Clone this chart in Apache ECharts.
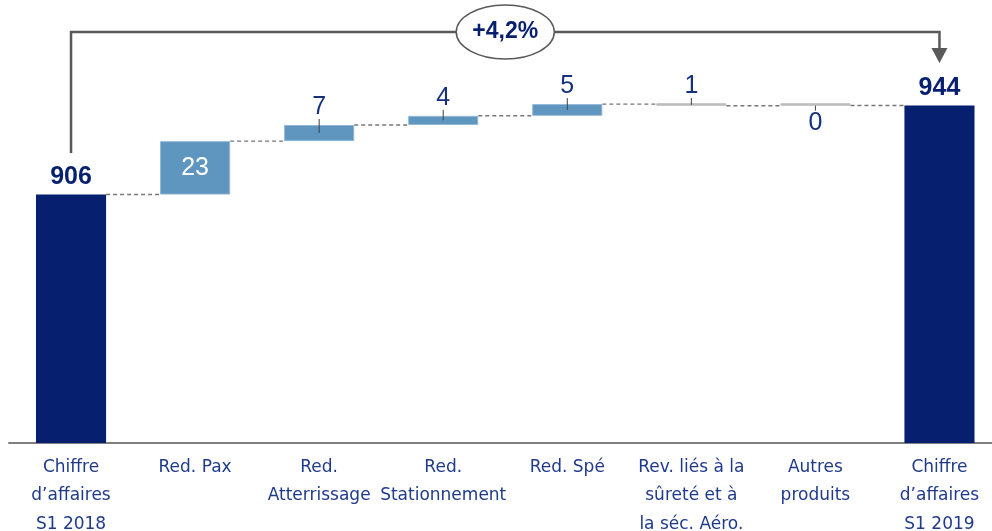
<!DOCTYPE html>
<html>
<head>
<meta charset="utf-8">
<script src="https://cdn.jsdelivr.net/npm/echarts@6/dist/echarts.min.js"></script>
<style>
html,body{margin:0;padding:0;background:#fff;overflow:hidden;}
#chart{width:992px;height:531px;}
</style>
</head>
<body>
<div id="chart"></div>
<script>
// ---- data ----
const categories = [
  'Chiffre\nd’affaires\nS1 2018',
  'Red. Pax',
  'Red.\nAtterrissage',
  'Red.\nStationnement',
  'Red. Spé',
  'Rev. liés à la\nsûreté et à\nla séc. Aéro.',
  'Autres\nproduits',
  'Chiffre\nd’affaires\nS1 2019'
];
const startValue = 906;
const deltas = [22.8, 6.9, 3.9, 5.0, -0.7, 0.1];
const endValue = 944;

// ---- styles (not data) ----
const NAVY = '#061f6f';
const BLUE = '#5e96c0';
const GREY = '#bdbdbd';
const deltaColors = [BLUE, BLUE, BLUE, BLUE, GREY, GREY];
const deltaLabelPos = ['inside', 'top', 'top', 'top', 'top', 'bottom'];
const BAR_RATIO = 0.565;

// ---- build waterfall ----
const levels = [startValue];
deltas.forEach(d => levels.push(levels[levels.length - 1] + d));

const baseData = [0];
const visData = [];
visData.push({
  value: startValue,
  itemStyle: { color: NAVY },
  label: { show: true, position: 'top', distance: 5, fontWeight: 'bold', color: NAVY, formatter: String(Math.round(startValue)) }
});
deltas.forEach((d, i) => {
  const lo = Math.min(levels[i], levels[i + 1]);
  baseData.push(lo);
  const pos = deltaLabelPos[i];
  visData.push({
    value: Math.abs(d),
    itemStyle: { color: deltaColors[i], borderColor: deltaColors[i] === BLUE ? '#93b8d7' : GREY, borderWidth: 1 },
    label: {
      show: true,
      position: pos,
      distance: 5,
      color: pos === 'inside' ? '#ffffff' : '#14307f',
      formatter: String(Math.round(Math.abs(d)))
    }
  });
});
baseData.push(0);
visData.push({
  value: endValue,
  itemStyle: { color: NAVY },
  label: { show: true, position: 'top', distance: 5, fontWeight: 'bold', color: NAVY, formatter: String(Math.round(endValue)) }
});

// connectors: from bar i to bar i+1 at the running level
const connectorData = [];
for (let i = 0; i < levels.length; i++) connectorData.push([i, levels[i]]);

// leader ticks for small labels outside bars
const tickData = [];
deltas.forEach((d, i) => {
  const pos = deltaLabelPos[i];
  if (pos === 'inside') return;
  const hi = Math.max(levels[i], levels[i + 1]);
  const lo = Math.min(levels[i], levels[i + 1]);
  tickData.push([i + 1, hi, lo, pos === 'top' ? 1 : -1]);
});

const chart = echarts.init(document.getElementById('chart'));
const option = {
  animation: false,
  grid: { left: 9, right: -9.5, top: 68, bottom: 88, outerBoundsMode: 'none', containLabel: false },
  xAxis: {
    type: 'category',
    data: categories,
    axisTick: { show: false },
    axisLine: { lineStyle: { color: '#808080', width: 2 } },
    axisLabel: {
      interval: 0,
      margin: 10,
      color: '#1f3a8a',
      fontFamily: 'DejaVu Sans',
      fontSize: 17,
      lineHeight: 28.5,
      hideOverlap: false
    },
    splitLine: { show: false }
  },
  yAxis: {
    type: 'value',
    min: 800,
    max: 960,
    show: false,
    splitLine: { show: false }
  },
  series: [
    {
      type: 'bar',
      stack: 'wf',
      data: baseData,
      barWidth: (BAR_RATIO * 100) + '%',
      itemStyle: { color: 'transparent' },
      emphasis: { disabled: true },
      silent: true
    },
    {
      type: 'bar',
      stack: 'wf',
      data: visData,
      barWidth: (BAR_RATIO * 100) + '%',
      barMinHeight: 2.5,
      label: {
        fontFamily: 'Liberation Sans',
        fontSize: 25
      },
      z: 3
    },
    {
      type: 'custom',
      data: connectorData,
      z: 2,
      silent: true,
      renderItem: function (params, api) {
        const i = api.value(0);
        const lvl = api.value(1);
        if (i >= categories.length - 1) return null;
        const a = api.coord([i, lvl]);
        const b = api.coord([i + 1, lvl]);
        const hw = api.size([1, 0])[0] * BAR_RATIO / 2;
        return {
          type: 'line',
          shape: { x1: a[0] + hw, y1: a[1], x2: b[0] - hw, y2: b[1] },
          style: { stroke: '#777777', lineWidth: 1.4, lineDash: [4, 3] }
        };
      }
    },
    {
      type: 'custom',
      data: tickData,
      z: 5,
      silent: true,
      renderItem: function (params, api) {
        const i = api.value(0);
        const hi = api.coord([i, api.value(1)]);
        const lo = api.coord([i, api.value(2)]);
        const dir = api.value(3);
        const midY = (hi[1] + lo[1]) / 2;
        let y1, y2;
        if (dir > 0) { y1 = Math.min(hi[1], midY - 1) - 6; y2 = midY; }
        else { y1 = midY; y2 = Math.max(lo[1], midY + 1) + 4; }
        return {
          type: 'line',
          shape: { x1: hi[0], y1: y1, x2: hi[0], y2: y2 },
          style: { stroke: '#404040', lineWidth: 1 }
        };
      }
    }
  ]
};
chart.setOption(option);

// ---- growth bracket annotation ----
const p0 = chart.convertToPixel({ gridIndex: 0 }, [0, startValue]);
const p1 = chart.convertToPixel({ gridIndex: 0 }, [categories.length - 1, endValue]);
const leftBottom = p0[1] - 41.5;
const topY = p1[1] - 73.5;
const tipY = p1[1] - 42.5;
const midX = (p0[0] + p1[0]) / 2;
const pct = (endValue - startValue) / startValue * 100;
const pctText = (pct >= 0 ? '+' : '') + pct.toFixed(1).replace('.', ',') + '%';

chart.setOption({
  graphic: [
    {
      type: 'polyline',
      shape: { points: [[p0[0], leftBottom], [p0[0], topY], [p1[0], topY], [p1[0], tipY - 12]] },
      style: { stroke: '#595959', lineWidth: 2.5, fill: null },
      z: 10
    },
    {
      type: 'polygon',
      shape: { points: [[p1[0] - 8, tipY - 15], [p1[0] + 8, tipY - 15], [p1[0], tipY]] },
      style: { fill: '#595959' },
      z: 10
    },
    {
      type: 'ellipse',
      shape: { cx: midX, cy: topY, rx: 49, ry: 27 },
      style: { fill: '#ffffff', stroke: '#595959', lineWidth: 1.5 },
      z: 11
    },
    {
      type: 'text',
      x: midX,
      y: topY,
      style: {
        text: pctText,
        fill: NAVY,
        font: 'bold 23px "Liberation Sans"',
        textAlign: 'center',
        textVerticalAlign: 'middle'
      },
      z: 12
    }
  ]
});
</script>
</body>
</html>
